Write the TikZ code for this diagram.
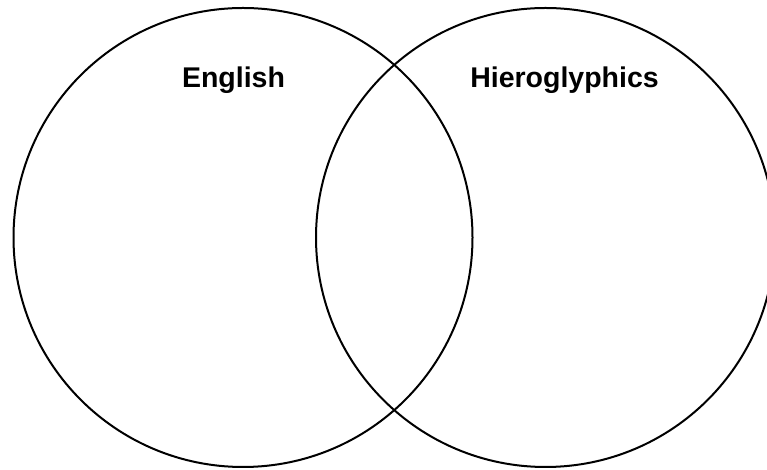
\documentclass[tikz,border=0pt]{standalone}
\usepackage{fontspec}
\setmainfont{Liberation Sans}
\begin{document}
\begin{tikzpicture}[x=1pt,y=1pt,
  ring/.style={draw=black,line width=2pt},
  label/.style={font=\fontsize{28.5}{34}\selectfont\bfseries,anchor=base,inner sep=0pt}]
\useasboundingbox (0,0) rectangle (767,470);
\begin{scope}
\clip (0,0) rectangle (767,470);
\draw[ring] (243,232.5) circle (229.5);
\draw[ring] (545.5,232.5) circle (229.5);
\end{scope}
\node[label] (en) at (233.5,382) {English};
\node[label] (hi) at (564.5,382) {Hieroglyphics};
\end{tikzpicture}
\end{document}
